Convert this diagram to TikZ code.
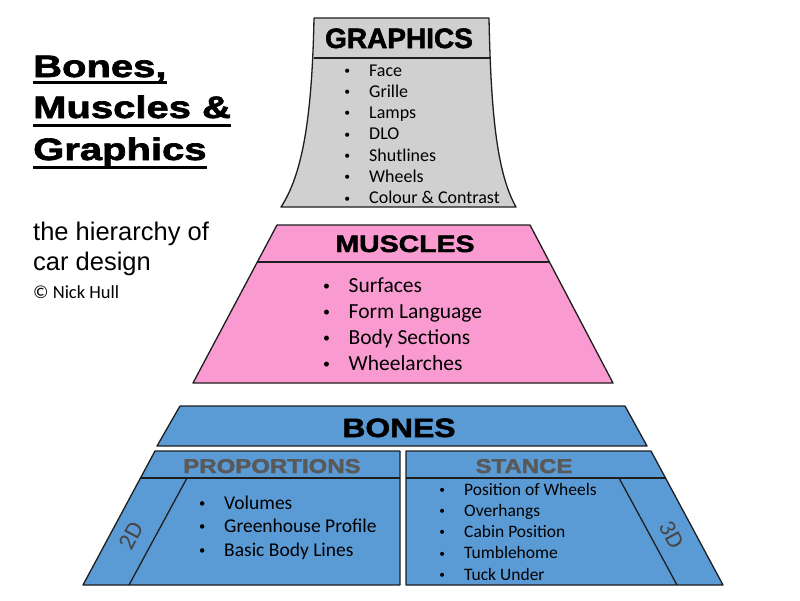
\documentclass[tikz,border=0pt]{standalone}
\usepackage{graphicx}
\usepackage{fontspec}
\setmainfont{Liberation Sans}
\newfontfamily\titlefont[FakeStretch=1.29,BoldFeatures={FakeBold=2.2}]{Liberation Sans}
\newfontfamily\headfont[FakeStretch=1.2,BoldFeatures={FakeBold=2}]{Liberation Sans}
\newfontfamily\capfont[BoldFeatures={FakeBold=2}]{Liberation Sans}
\newfontfamily\listfont{Carlito}
\usetikzlibrary{calc}

\definecolor{gfill}{HTML}{D0D0D0}
\definecolor{mfill}{HTML}{F99BD1}
\definecolor{bfill}{HTML}{5B9BD5}
\definecolor{edge}{HTML}{1E1E1E}
\definecolor{subhead}{HTML}{595959}
\definecolor{dimtext}{HTML}{454545}

\newcommand{\itm}[1]{\makebox[22pt][l]{\makebox[0pt][c]{\raisebox{0.09em}{\scalebox{0.65}{\textbullet}}}}#1}

\tikzset{
  block/.style={draw=edge, line width=1.3pt, line join=round},
  head/.style={anchor=base, inner sep=0pt, font=\headfont\bfseries\fontsize{#1}{#1}\selectfont},
  caphead/.style={anchor=base, inner sep=0pt, font=\capfont\bfseries\fontsize{#1}{#1}\selectfont},
  items/.style 2 args={anchor=base west, inner sep=0pt, font=\listfont\fontsize{#1}{#2}\selectfont},
  title/.style={anchor=base west, inner sep=0pt, font=\titlefont\bfseries\fontsize{31}{31}\selectfont},
  uline/.style={line width=3pt},
  dimlabel/.style={inner sep=0pt, text=dimtext, font=\listfont\fontsize{24}{24}\selectfont}
}

\begin{document}
\begin{tikzpicture}[x=1pt,y=-1pt]
	\useasboundingbox (0,0) rectangle (800,600);
	\fill[white] (0,0) rectangle (800,600);

	\draw[block, fill=gfill] (314,18) -- (489,18) .. controls (491,120) and (498,175) .. (516,207)
		-- (281,207) .. controls (302,175) and (312,120) .. (314,18) -- cycle;
	\draw[block] (313.5,58) -- (489.5,58);

	\draw[block, fill=mfill] (277,225) -- (530,225) -- (613,383) -- (193,383) -- cycle;
	\draw[block] (257.3,262) -- (549.4,262);

	\draw[block, fill=bfill] (180,406) -- (625,406) -- (647,446) -- (157,446) -- cycle;

	\draw[block, fill=bfill] (155,451) -- (400,451) -- (400,585) -- (83,585) -- cycle;
	\draw[block] (140.5,478) -- (400,478);
	\draw[block] (187,478) -- (129,585);

	\draw[block, fill=bfill] (406,451) -- (651,451) -- (723,585) -- (406,585) -- cycle;
	\draw[block] (406,478) -- (665.5,478);
	\draw[block] (619,478) -- (677,585);

	\node[caphead=28] (graphicshead) at (399,48) {GRAPHICS};
	\node[items={18}{21.3}] (graphicslist) at (347,76) {\begin{tabular}[t]{@{}l@{}}
		\itm{Face}\\ \itm{Grille}\\ \itm{Lamps}\\ \itm{DLO}\\ \itm{Shutlines}\\ \itm{Wheels}\\ \itm{Colour \& Contrast}
	\end{tabular}};

	\node[head=23.7] (muscleshead) at (405,252) {MUSCLES};
	\node[items={21.5}{26}] (muscleslist) at (326.5,292) {\begin{tabular}[t]{@{}l@{}}
		\itm{Surfaces}\\ \itm{Form Language}\\ \itm{Body Sections}\\ \itm{Wheelarches}
	\end{tabular}};

	\node[head=26.5] (boneshead) at (399,437) {BONES};

	\node[head=20, text=subhead] (prophead) at (272,473) {PROPORTIONS};
	\node[items={19.5}{23.6}] (proplist) at (202,509) {\begin{tabular}[t]{@{}l@{}}
		\itm{Volumes}\\ \itm{Greenhouse Profile}\\ \itm{Basic Body Lines}
	\end{tabular}};
	\node[dimlabel, rotate=61.5] (twod) at (131,536) {2D};

	\node[head=20, text=subhead] (stancehead) at (524,473) {STANCE};
	\node[items={17.5}{21.25}] (stancelist) at (442,495) {\begin{tabular}[t]{@{}l@{}}
		\itm{Position of Wheels}\\ \itm{Overhangs}\\ \itm{Cabin Position}\\ \itm{Tumblehome}\\ \itm{Tuck Under}
	\end{tabular}};
	\node[dimlabel, rotate=-61.5] (threed) at (672,535) {3D};

	\node[title] (tbones) at (33,77) {Bones,};
	\node[title] (tmuscles) at (33,118) {Muscles \&};
	\node[title] (tgraphics) at (33,160) {Graphics};
	\draw[uline] ([yshift=-5pt]tbones.base west) -- ([yshift=-5pt]tbones.base east);
	\draw[uline] ([yshift=-7pt]tmuscles.base west) -- ([yshift=-7pt]tmuscles.base east);
	\draw[uline] ([yshift=-7.5pt]tgraphics.base west) -- ([yshift=-7.5pt]tgraphics.base east);

	\node[anchor=base west, inner sep=0pt, font=\fontsize{25.5}{30}\selectfont] (subtitle) at (33,240)
		{\begin{tabular}[t]{@{}l@{}}the hierarchy of\\ car design\end{tabular}};
	\node[anchor=base west, inner sep=0pt, font=\listfont\fontsize{18.5}{18.5}\selectfont] (credit) at (33,298) {\textcopyright{} Nick Hull};
\end{tikzpicture}
\end{document}
